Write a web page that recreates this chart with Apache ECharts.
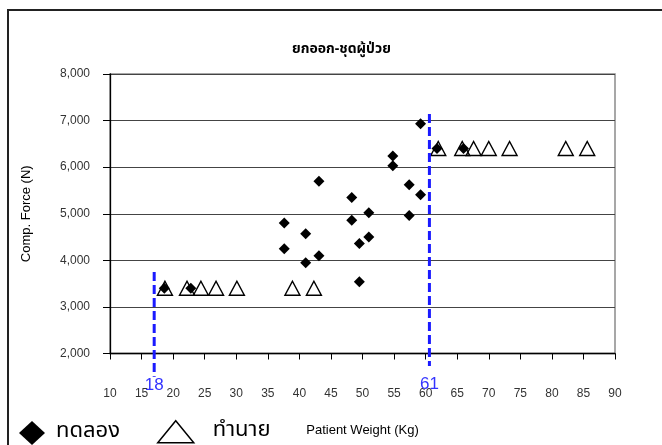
<!DOCTYPE html>
<html>
<head>
<meta charset="utf-8">
<script src="https://cdn.jsdelivr.net/npm/echarts@6/dist/echarts.min.js"></script>
<style>
html,body{margin:0;padding:0;background:#fff;}
#chart{width:662px;height:445px;}
</style>
</head>
<body>
<div id="chart"></div>
<script>
// ---- data ----
var titleText = 'ยกออก-ชุดผู้ป่วย';
var xAxisName = 'Patient Weight (Kg)';
var yAxisName = 'Comp. Force (N)';
var seriesNames = ['ทดลอง', 'ทำนาย'];

// experimental (diamonds)
var expX = [18.6, 22.8, 37.6, 37.6, 41.0, 41.0, 43.1, 43.1, 48.3, 48.3, 49.5, 49.5, 51.0, 51.0, 54.8, 54.8, 57.4, 57.4, 59.2, 59.2, 61.8, 66.0];
var expY = [3400, 3400, 4800, 4250, 4570, 3950, 5700, 4100, 5350, 4860, 4360, 3540, 5020, 4500, 6240, 6030, 5620, 4960, 5410, 6930, 6400, 6400];

// predicted (triangles)
var predX = [18.7, 22.2, 24.4, 26.8, 30.1, 38.9, 42.3, 62.0, 65.8, 67.6, 70.0, 73.3, 82.2, 85.6];
var predY = [3400, 3400, 3400, 3400, 3400, 3400, 3400, 6400, 6400, 6400, 6400, 6400, 6400, 6400];

// reference (dashed) lines: x position, top and bottom value, label
var refX = [17.0, 60.6];
var refTop = [3750, 7140];
var refBottom = [1500, 1730];
var refLabels = ['18', '61'];

var xMin = 10, xMax = 90, xStep = 5;
var yMin = 2000, yMax = 8000, yStep = 1000;

// ---- build ----
function pairs(xs, ys) { return xs.map(function (x, i) { return [x, ys[i]]; }); }
var refLabelGap = [0, 9];

var series = [
  {
    name: seriesNames[1], type: 'scatter', symbol: 'triangle', symbolSize: [15, 14],
    itemStyle: { color: 'rgba(255,255,255,0)', borderColor: '#000', borderWidth: 1.4, opacity: 1 },
    data: pairs(predX, predY), z: 3
  },
  {
    name: seriesNames[0], type: 'scatter', symbol: 'diamond', symbolSize: 11,
    itemStyle: { color: '#000', opacity: 1 },
    data: pairs(expX, expY), z: 4
  }
];
refX.forEach(function (x, i) {
  series.push({
    name: 'ref' + i, type: 'line', clip: false, silent: true, z: 5,
    symbol: 'circle', symbolSize: 1, showSymbol: true, showAllSymbol: true,
    itemStyle: { color: 'rgba(0,0,0,0)' },
    lineStyle: { color: '#1a1aff', width: 3, type: [9, 4] },
    label: { show: false },
    data: [
      { value: [x, refTop[i]] },
      { value: [x, refBottom[i]],
        label: { show: true, position: 'bottom', distance: refLabelGap[i], formatter: refLabels[i],
                 color: '#3333ff', fontSize: 17, fontFamily: 'Liberation Sans, Arial, sans-serif' } }
    ]
  });
});

var chart = echarts.init(document.getElementById('chart'), null, { renderer: 'canvas' });
chart.setOption({
  animation: false,
  backgroundColor: '#fff',
  title: {
    text: titleText, left: 287, top: 38,
    textStyle: { fontSize: 14, fontWeight: 'bold', color: '#000', fontFamily: 'Noto Sans Thai, Tahoma, DejaVu Sans, sans-serif' }
  },
  graphic: [{
    type: 'rect', shape: { x: 8, y: 10, width: 700, height: 500 },
    style: { fill: 'none', stroke: '#222', lineWidth: 2 }, silent: true, z: 0
  }],
  legend: [
    {
      data: [{ name: seriesNames[0], icon: 'diamond' }],
      left: 14, top: 416, itemWidth: 26, itemHeight: 24, itemGap: 10,
      textStyle: { fontSize: 22, color: '#000', padding: [0, 0, 0, 6], fontFamily: 'Noto Sans Thai, sans-serif' }
    },
    {
      data: [{ name: seriesNames[1], icon: 'triangle',
               itemStyle: { color: 'rgba(255,255,255,0)', borderColor: '#000', borderWidth: 1.5 } }],
      left: 152, top: 415, itemWidth: 36, itemHeight: 22, itemGap: 10,
      textStyle: { fontSize: 22, color: '#000', padding: [0, 0, 0, 14], fontFamily: 'Noto Sans Thai, sans-serif' }
    }
  ],
  grid: {
    left: 110, right: 47, top: 74, bottom: 91.5,
    show: true, borderColor: '#8a8a8a', borderWidth: 1.5, backgroundColor: 'transparent'
  },
  xAxis: {
    type: 'value', min: xMin, max: xMax, interval: xStep,
    name: xAxisName, nameLocation: 'middle', nameGap: 70,
    nameTextStyle: { fontSize: 13, color: '#000', fontFamily: 'Liberation Sans, Arial, sans-serif' },
    axisLine: { show: true, lineStyle: { color: '#000', width: 1.3 } },
    axisTick: { show: true, inside: false, length: 6, lineStyle: { color: '#000' } },
    axisLabel: { margin: 34, fontSize: 12, color: '#333', fontFamily: 'Liberation Sans, Arial, sans-serif' },
    splitLine: { show: false }
  },
  yAxis: {
    type: 'value', min: yMin, max: yMax, interval: yStep,
    name: yAxisName, nameLocation: 'middle', nameGap: 77, nameRotate: 90,
    nameTextStyle: { fontSize: 13, color: '#000', fontFamily: 'Liberation Sans, Arial, sans-serif' },
    axisLine: { show: true, lineStyle: { color: '#000', width: 1.3 } },
    axisTick: { show: true, inside: false, length: 7, lineStyle: { color: '#000' } },
    axisLabel: {
      margin: 20, fontSize: 12, color: '#333', fontFamily: 'Liberation Sans, Arial, sans-serif',
      formatter: function (v) { return v.toLocaleString('en-US'); }
    },
    splitLine: { show: true, lineStyle: { color: '#444', width: 1 } }
  },
  series: series
});
</script>
</body>
</html>
